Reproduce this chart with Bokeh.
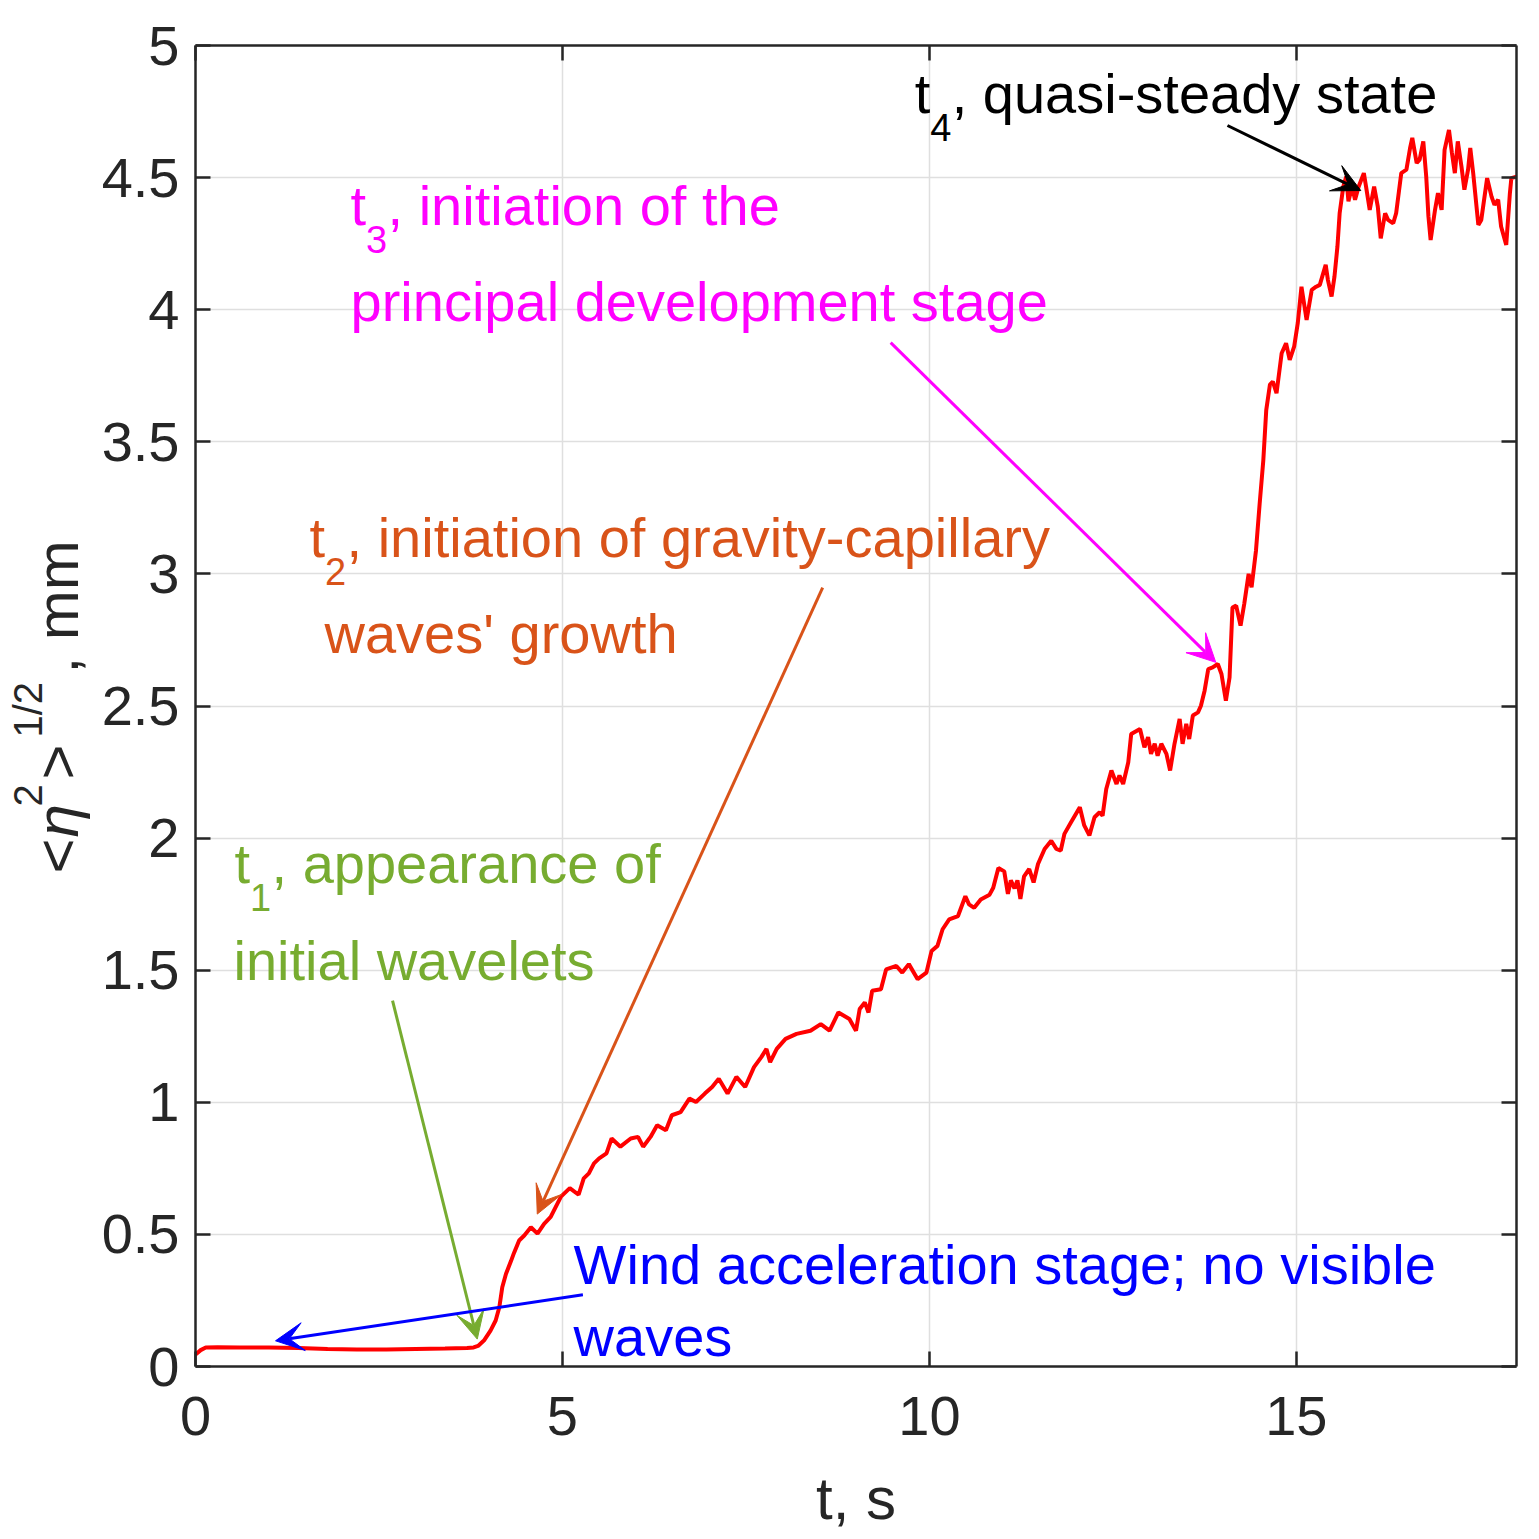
import math
from bokeh.plotting import figure
from bokeh.layouts import row
from bokeh.models import Label, Arrow, VeeHead, LinearAxis, FixedTicker, Range1d
from bokeh.embed import file_html
from bokeh.resources import INLINE

# ---------------- data ----------------
t = [0.00, 0.07, 0.14, 0.30, 0.60, 1.00, 1.40, 1.80, 2.20, 2.60, 3.00, 3.40, 3.70, 3.79, 3.85,
     3.93, 4.02, 4.09, 4.14, 4.18, 4.23, 4.30, 4.34, 4.41, 4.48, 4.57, 4.66, 4.75, 4.84,
     4.98, 5.10, 5.22, 5.29, 5.36, 5.43, 5.50, 5.60, 5.67, 5.79, 5.93, 6.03, 6.10, 6.20,
     6.29, 6.41, 6.49, 6.61, 6.73, 6.82, 6.94, 7.04, 7.13, 7.25, 7.37, 7.49, 7.61, 7.71,
     7.78, 7.83, 7.92, 8.04, 8.19, 8.38, 8.52, 8.64, 8.76, 8.91, 9.00, 9.05, 9.12, 9.17,
     9.22, 9.34, 9.41, 9.55, 9.63, 9.72, 9.84, 9.96, 10.03, 10.11, 10.18, 10.27, 10.39,
     10.49, 10.54, 10.61, 10.70, 10.82, 10.87, 10.94, 11.02,
     11.07, 11.11, 11.16, 11.20, 11.24, 11.29, 11.36, 11.42, 11.48, 11.57, 11.66, 11.73,
     11.79, 11.84, 11.93, 12.05, 12.11, 12.18, 12.25, 12.32, 12.36, 12.41, 12.48, 12.55,
     12.59, 12.64, 12.71, 12.75, 12.87, 12.93, 12.98, 13.02, 13.07, 13.11, 13.16, 13.23,
     13.28, 13.34, 13.41, 13.45, 13.50, 13.54, 13.59, 13.66, 13.70, 13.75, 13.80, 13.86,
     13.93, 13.98, 14.04, 14.09, 14.13, 14.18, 14.24, 14.29, 14.35, 14.39, 14.45,
     14.50, 14.55, 14.59, 14.64, 14.68, 14.73, 14.80, 14.86, 14.91, 14.97, 15.02, 15.07,
     15.14, 15.21, 15.27, 15.32, 15.40, 15.43, 15.48, 15.52, 15.56, 15.59, 15.64, 15.68,
     15.71, 15.76, 15.80, 15.85, 15.92, 15.95, 16.00, 16.06, 16.11, 16.15, 16.21, 16.25,
     16.32, 16.36, 16.43, 16.50, 16.55, 16.58, 16.64, 16.68, 16.73, 16.77, 16.80, 16.83,
     16.89, 16.93, 16.98, 17.02, 17.08, 17.12, 17.16, 17.20, 17.25, 17.29, 17.34, 17.37,
     17.41, 17.48, 17.52, 17.60, 17.66, 17.70, 17.75, 17.79, 17.86, 17.91, 17.93, 18.00]

eta_rms = [0.045, 0.062, 0.072, 0.073, 0.072, 0.072, 0.070, 0.066, 0.064, 0.064, 0.066, 0.068, 0.070, 0.072, 0.078,
           0.098, 0.136, 0.174, 0.224, 0.300, 0.350, 0.400, 0.430, 0.477, 0.496, 0.527, 0.503, 0.540, 0.566,
           0.643, 0.675, 0.650, 0.712, 0.731, 0.769, 0.788, 0.807, 0.863, 0.832, 0.863, 0.869, 0.832, 0.869,
           0.913, 0.894, 0.951, 0.963, 1.014, 1.001, 1.033, 1.058, 1.089, 1.033, 1.096, 1.058, 1.133, 1.171,
           1.202, 1.152, 1.202, 1.240, 1.259, 1.271, 1.296, 1.271, 1.340, 1.315, 1.271, 1.353, 1.378, 1.340,
           1.422, 1.428, 1.503, 1.516, 1.491, 1.523, 1.466, 1.491, 1.573, 1.592, 1.655, 1.692, 1.705,
           1.780, 1.749, 1.736, 1.768, 1.786, 1.812, 1.887, 1.874,
           1.789, 1.840, 1.810, 1.840, 1.770, 1.855, 1.883, 1.832, 1.902, 1.959, 1.990, 1.959,
           1.953, 2.016, 2.060, 2.117, 2.048, 2.010, 2.079, 2.098, 2.085, 2.186, 2.256, 2.205,
           2.237, 2.205, 2.287, 2.394, 2.413, 2.344, 2.382, 2.319, 2.357, 2.312, 2.357, 2.319,
           2.256, 2.357, 2.451, 2.357, 2.432, 2.375, 2.464, 2.476, 2.501, 2.558, 2.640, 2.646,
           2.659, 2.621, 2.520, 2.608, 2.873, 2.880, 2.804, 2.886, 3.000, 2.949, 3.088,
           3.265, 3.430, 3.620, 3.716, 3.728, 3.684, 3.835, 3.873, 3.810, 3.860, 3.950, 4.087,
           3.961, 4.075, 4.087, 4.094, 4.170, 4.113, 4.050, 4.126, 4.239, 4.365, 4.466, 4.504,
           4.410, 4.466, 4.416, 4.466, 4.517, 4.466, 4.378, 4.466, 4.390, 4.270, 4.365, 4.340,
           4.327, 4.365, 4.517, 4.530, 4.612, 4.650, 4.555, 4.568, 4.637, 4.504, 4.353, 4.264,
           4.378, 4.441, 4.378, 4.605, 4.680, 4.593, 4.517, 4.637, 4.542, 4.454, 4.530, 4.612,
           4.517, 4.321, 4.340, 4.498, 4.428, 4.397, 4.416, 4.315, 4.245, 4.441, 4.498, 4.504]

x_ticks = [0, 5, 10, 15]
x_tick_labels = ["0", "5", "10", "15"]
y_ticks = [0, 0.5, 1, 1.5, 2, 2.5, 3, 3.5, 4, 4.5, 5]
y_tick_labels = ["0", "0.5", "1", "1.5", "2", "2.5", "3", "3.5", "4", "4.5", "5"]

# ---------------- styling ----------------
FONT = "Liberation Sans"
AX = "#262626"
GRID = "#dfdfdf"
RED = "#ff0000"
ORANGE = "#d95319"
GREEN = "#77ac30"
MAGENTA = "#ff00ff"
BLUE = "#0000ff"
BLACK = "#000000"

LBL_W = 95          # width of the strip holding the rotated y label
FRAME_L = 195       # frame left edge on the page
FRAME_T = 45
FW = 1321
FH = 1321
BOTTOM = 168
H = FRAME_T + FH + BOTTOM
BASE_SHIFT = 0.357  # empirical baseline correction (fraction of font size)

p = figure(frame_width=FW, frame_height=FH,
           x_range=Range1d(0, 18), y_range=Range1d(0, 5),
           output_backend="svg", toolbar_location=None,
           min_border_left=FRAME_L - LBL_W, min_border_top=FRAME_T,
           min_border_right=14, min_border_bottom=BOTTOM,
           x_axis_label="t, s")
p.outline_line_color = None
p.background_fill_color = "white"
p.border_fill_color = "white"

p.xgrid.ticker = FixedTicker(ticks=x_ticks)
p.ygrid.ticker = FixedTicker(ticks=y_ticks)
for g in (p.xgrid, p.ygrid):
    g.grid_line_color = GRID
    g.grid_line_width = 1.5


def style_axis(ax, labels=True):
    ax.axis_line_color = AX
    ax.axis_line_width = 2.5
    ax.major_tick_line_color = AX
    ax.major_tick_line_width = 2.5
    ax.major_tick_in = 15
    ax.major_tick_out = 0
    ax.minor_tick_line_color = None
    ax.major_label_text_font = FONT
    ax.major_label_text_color = AX
    if labels:
        ax.major_label_text_font_size = "56px"
    else:
        ax.major_label_text_font_size = "0px"
        ax.major_label_standoff = 0


xb = p.below[0]
xb.ticker = FixedTicker(ticks=x_ticks)
xb.major_label_overrides = dict(zip(x_ticks, x_tick_labels))
style_axis(xb)
xb.major_label_standoff = 30
xb.axis_label_text_font = FONT
xb.axis_label_text_font_size = "60px"
xb.axis_label_text_font_style = "normal"
xb.axis_label_text_color = AX
xb.axis_label_standoff = 27

yl = p.left[0]
yl.ticker = FixedTicker(ticks=y_ticks)
yl.major_label_overrides = dict(zip(y_ticks, y_tick_labels))
style_axis(yl)
yl.major_label_standoff = 16

xt = LinearAxis(ticker=FixedTicker(ticks=x_ticks))
xt.major_label_overrides = {v: "" for v in x_ticks}
style_axis(xt, labels=False)
p.add_layout(xt, "above")

yr = LinearAxis(ticker=FixedTicker(ticks=y_ticks))
yr.major_label_overrides = {v: "" for v in y_ticks}
style_axis(yr, labels=False)
p.add_layout(yr, "right")

p.line(t, eta_rms, line_color=RED, line_width=4)


# ---------------- annotations ----------------
def dx(px):
    return (px - 195.0) / 73.37


def dy(py):
    return (1365.7 - py) / 264.14


def lab(fig, x, y, text, color, size=56, style="normal", angle=0.0):
    fig.add_layout(Label(x=x, y=y, text=text, text_color=color,
                         text_font=FONT, text_font_size=f"{size}px", text_font_style=style,
                         text_align="left", text_baseline="alphabetic", angle=angle))


def plab(px, py, text, color, size=56):
    # (px, py) = wanted left end of the baseline, in page pixels
    lab(p, dx(px), dy(py - BASE_SHIFT * size), text, color, size=size)


def sub_label(px, py, sub, rest, color):
    plab(px, py, "t", color)
    plab(px + 15.5, py + 27.5, sub, color, size=38)
    plab(px + 37, py, rest, color)


sub_label(914, 113.3, "4", ", quasi-steady state", BLACK)
sub_label(350, 225.0, "3", ", initiation of the", MAGENTA)
plab(350, 321.3, "principal development stage", MAGENTA)
sub_label(309, 556.7, "2", ", initiation of gravity-capillary", ORANGE)
plab(324, 652.7, "waves' growth", ORANGE)
sub_label(234, 883.3, "1", ", appearance of", GREEN)
plab(233, 980.0, "initial wavelets", GREEN)
plab(573, 1284.0, "Wind acceleration stage; no visible", BLUE)
plab(573, 1356.0, "waves", BLUE)

arrows = [
    ((392, 1000), (476.7, 1338.3), GREEN),
    ((582.3, 1294), (275, 1340), BLUE),
    ((822, 587), (536.7, 1213.3), ORANGE),
    ((890, 342), (1215, 661.7), MAGENTA),
    ((1226.7, 125), (1360, 190), BLACK),
]
for (sx, sy), (ex, ey), c in arrows:
    p.add_layout(Arrow(end=VeeHead(size=28, fill_color=c, line_color=c, line_width=1),
                       x_start=dx(sx), y_start=dy(sy), x_end=dx(ex), y_end=dy(ey),
                       line_color=c, line_width=3))

# ---------------- y axis label strip: <η^2>^{1/2}, mm ----------------
q = figure(frame_width=LBL_W, frame_height=H, x_range=Range1d(0, LBL_W), y_range=Range1d(0, H),
           output_backend="svg", toolbar_location=None,
           min_border=0, x_axis_location=None, y_axis_location=None)
q.outline_line_color = None
q.xgrid.visible = False
q.ygrid.visible = False
q.background_fill_color = "white"
q.border_fill_color = "white"

A = math.pi / 2
V_SHIFT = 44  # empirical along-text correction for the rotated pieces


def rlab(base_px, start_py, text, size, style="normal"):
    lab(q, base_px - BASE_SHIFT * size, H - (start_py - V_SHIFT), text, AX,
        size=size, style=style, angle=A)


rlab(78, 872, "<", 60)
rlab(78, 836, "η", 60, style="italic")
rlab(42, 805, "2", 40)
rlab(78, 778, ">", 60)
rlab(42, 736, "1/2", 40)
rlab(78, 672, ", mm", 60)

layout = row(q, p, spacing=0)
open("out.html", "w").write(file_html(layout, INLINE))
